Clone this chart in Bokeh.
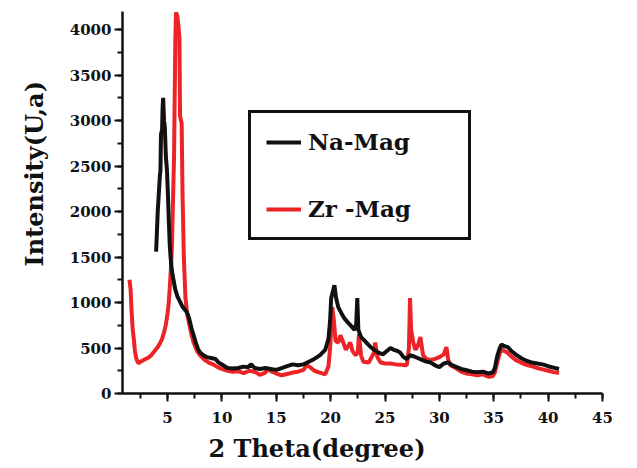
from bokeh.plotting import figure
from bokeh.models import SingleIntervalTicker, Legend, LegendItem, Title
from bokeh.embed import file_html
from bokeh.resources import INLINE

# ---- data ----
zr_theta = [1.5, 1.6, 1.7, 1.8, 1.9, 2.0, 2.1, 2.2, 2.35, 2.5, 2.7, 2.9, 3.1, 3.3, 3.5, 3.7, 3.9,
            4.1, 4.3, 4.5, 4.7, 4.85, 5.0, 5.1, 5.2, 5.3, 5.4, 5.5, 5.6, 5.65, 5.72, 5.78, 5.9,
            6.0, 6.1, 6.15, 6.3, 6.38, 6.5, 6.65, 6.8, 7.0, 7.2, 7.4, 7.7, 8.0, 8.4, 8.8, 9.2,
            9.6, 10.0, 10.5, 11.0, 11.5, 12.0, 12.5, 13.0, 13.5, 14.0, 14.2, 14.5, 15.0, 15.5,
            16.0, 16.5, 17.0, 17.5, 17.8, 18.1, 18.5, 19.0, 19.5, 19.8, 19.95, 20.05, 20.15,
            20.3, 20.45, 20.7, 20.9, 21.1, 21.4, 21.6, 21.8, 22.0, 22.3, 22.5, 22.6, 22.8, 23.0,
            23.5, 24.0, 24.1, 24.3, 24.6, 25.0, 25.5, 26.0, 26.5, 27.0, 27.2, 27.3, 27.4, 27.6,
            27.8, 28.0, 28.25, 28.5, 28.8, 29.2, 29.6, 30.0, 30.4, 30.65, 30.8, 31.0, 31.5,
            32.0, 32.5, 33.0, 33.5, 34.0, 34.5, 34.9, 35.1, 35.3, 35.5, 35.7, 35.9, 36.2, 36.6,
            37.0, 37.5, 38.0, 38.5, 39.0, 39.5, 40.0, 40.5, 41.0]
zr_int = [1250, 1150, 900, 700, 600, 470, 400, 360, 330, 350, 360, 375, 385, 400, 420, 450, 480,
          510, 550, 600, 680, 760, 880, 980, 1150, 1350, 1600, 2100, 2600, 3150, 3900, 4190, 4150,
          4050, 3900, 3050, 2970, 2200, 1500, 1050, 880, 760, 650, 560, 470, 420, 370, 340, 320,
          290, 270, 250, 240, 245, 225, 250, 240, 205, 230, 270, 245, 220, 200,
          215, 230, 240, 260, 310, 290, 250, 230, 210, 300, 500, 700, 950,
          800, 580, 560, 640, 580, 480, 520, 560, 470, 420, 450, 650, 420, 350,
          340, 450, 560, 400, 340, 330, 330, 320, 315, 310, 500, 1050, 700, 560,
          480, 520, 620, 420, 380, 370, 380, 400, 430, 510, 380, 310, 280,
          240, 220, 210, 200, 210, 185, 190, 230, 330, 420, 490, 470, 455, 410,
          370, 340, 315, 300, 280, 265, 250, 235, 225]

na_theta = [3.95, 4.0, 4.05, 4.1, 4.2, 4.3, 4.35, 4.4, 4.5, 4.55, 4.6, 4.68, 4.75, 4.85, 4.95,
            5.05, 5.12, 5.2, 5.28, 5.4, 5.55, 5.7, 5.9, 6.1, 6.35, 6.6, 6.8, 7.0, 7.2, 7.4, 7.6,
            7.8, 8.0, 8.3, 8.6, 9.0, 9.4, 9.7, 10.0, 10.5, 11.0, 11.5, 12.0, 12.4, 12.7, 13.0,
            13.5, 14.0, 14.5, 15.0, 15.5, 16.0, 16.5, 17.0, 17.5, 18.0, 18.5, 19.0, 19.5, 19.8,
            19.95, 20.05, 20.2, 20.35, 20.5, 20.7, 21.0, 21.3, 21.6, 21.9, 22.2, 22.35, 22.45,
            22.55, 22.8, 23.2, 23.6, 24.0, 24.4, 24.8, 25.2, 25.5, 25.8, 26.1, 26.4, 26.7, 27.0,
            27.3, 27.6, 28.0, 28.4, 28.8, 29.2, 29.6, 30.0, 30.4, 30.8, 31.2, 31.6, 32.0, 32.5,
            33.0, 33.5, 34.0, 34.5, 34.9, 35.1, 35.3, 35.5, 35.7, 36.0, 36.3, 36.6, 37.0, 37.5,
            38.0, 38.5, 39.0, 39.5, 40.0, 40.5, 41.0]
na_int = [1560, 1700, 1850, 2000, 2200, 2400, 2450, 2850, 2900, 3150, 3250, 3000, 2930, 2600, 2450,
          2150, 1900, 1650, 1500, 1350, 1250, 1150, 1070, 1020, 960, 920, 890, 820, 720, 640, 560,
          490, 450, 420, 400, 390, 380, 340, 320, 280, 275, 280, 295, 290, 320, 280,
          270, 280, 270, 260, 280, 300, 320, 310, 320, 350, 380, 420, 480, 600,
          800, 1050, 1120, 1190, 1050, 950, 880, 820, 780, 740, 700, 760, 1050,
          700, 620, 570, 520, 480, 450, 430, 470, 500, 480, 470, 450, 400, 380,
          420, 410, 390, 370, 350, 340, 310, 290, 330, 340, 310, 290, 270, 255,
          240, 235, 240, 220, 230, 280, 400, 480, 540, 520, 510, 470, 430, 390,
          360, 340, 330, 320, 300, 285, 270]

x_ticks_interval = 5
y_ticks_interval = 500
series_names = ["Na-Mag", "Zr -Mag"]
x_title = "2 Theta(degree)"
y_title = "Intensity(U,a)"

SERIF = "DejaVu Serif"
RED = "#ec2327"
BLACK = "#111111"

p = figure(width=637, height=468, x_range=(0.86, 45), y_range=(0, 4200),
           output_backend="svg", toolbar_location=None,
           min_border_left=122, min_border_right=35, min_border_top=11, min_border_bottom=73)
p.background_fill_color = "white"
p.border_fill_color = "white"
p.outline_line_color = None
p.xgrid.visible = False
p.ygrid.visible = False

r_zr = p.line(zr_theta, zr_int, line_color=RED, line_width=4)
r_na = p.line(na_theta, na_int, line_color=BLACK, line_width=4)

for ax, interval in ((p.xaxis[0], x_ticks_interval), (p.yaxis[0], y_ticks_interval)):
    ax.ticker = SingleIntervalTicker(interval=interval, num_minor_ticks=2)
    ax.axis_line_width = 2.5
    ax.axis_line_color = BLACK
    ax.major_tick_line_width = 2
    ax.minor_tick_line_width = 2
    ax.major_tick_line_color = BLACK
    ax.minor_tick_line_color = BLACK
    ax.major_tick_out = 8
    ax.major_tick_in = 0
    ax.minor_tick_out = 5
    ax.minor_tick_in = 0
    ax.major_label_text_font = SERIF
    ax.major_label_text_font_style = "bold"
    ax.major_label_text_font_size = "15px"
    ax.major_label_text_color = BLACK

p.xaxis[0].major_label_standoff = 10
p.yaxis[0].major_label_standoff = 3

legend = Legend(items=[LegendItem(label=series_names[0], renderers=[r_na]),
                       LegendItem(label=series_names[1], renderers=[r_zr])],
                location=(126, 153))
legend.border_line_color = BLACK
legend.border_line_alpha = 1
legend.border_line_width = 3
legend.background_fill_color = "white"
legend.background_fill_alpha = 1
legend.padding = 15
legend.spacing = 40
legend.margin = 0
legend.glyph_width = 35
legend.glyph_height = 24
legend.label_standoff = 7
legend.label_width = 145
legend.label_text_font = SERIF
legend.label_text_font_style = "bold"
legend.label_text_font_size = "23px"
legend.label_text_color = BLACK
p.add_layout(legend)

xt = Title(text=x_title, align="left", offset=86, standoff=12, text_font=SERIF,
           text_font_style="bold", text_font_size="24px", text_color=BLACK)
p.add_layout(xt, "below")
yt = Title(text=y_title, align="left", offset=127, standoff=35, text_font=SERIF,
           text_font_style="bold", text_font_size="24px", text_color=BLACK)
p.add_layout(yt, "left")

open("out.html", "w").write(file_html(p, INLINE))
